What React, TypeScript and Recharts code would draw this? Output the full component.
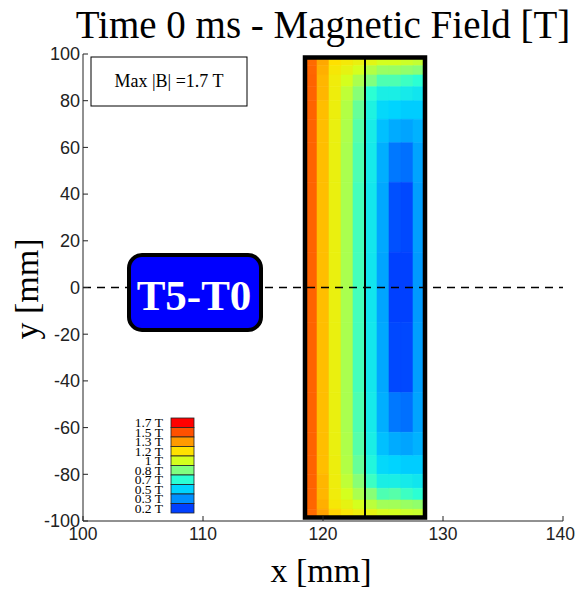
import React from 'react';
import { ComposedChart, XAxis, YAxis, ReferenceArea, ReferenceLine } from 'recharts';

// ---- axes ----
const xTicks = [100, 110, 120, 130, 140];
const yTicks = [-100, -80, -60, -40, -20, 0, 20, 40, 60, 80, 100];

// ---- colour key (value in T -> colour) ----
const legendLabels = ['1.7 T', '1.5 T', '1.3 T', '1.2 T', '1 T', '0.8 T', '0.7 T', '0.5 T', '0.3 T', '0.2 T'];
const legendValues = [1.7, 1.5, 1.3, 1.2, 1.0, 0.8, 0.7, 0.5, 0.3, 0.2];
const legendColors = ['#ff0000', '#ff5000', '#ff9a00', '#ffe100', '#d4ff1e', '#80ff80', '#2bffd4', '#00d4ff', '#0090ff', '#0040ff'];

// ---- coil geometry (mm) ----
const coilX = [118.5, 128.5];
const coilY = [-98.5, 98.5];
const innerX = 123.5;

// ---- field grid: column edges (x, mm) and row edges (y, mm, top -> bottom) ----
const colEdges = [118.5, 119.5, 120.5, 121.5, 122.5, 123.5, 124.5, 125.5, 126.5, 127.5, 128.5];
const rowEdges = [98.5, 95, 91, 86, 80, 72, 62, 45, 15, -15, -45, -62, -72, -80, -86, -91, -95, -98.5];

// |B| in T per column, rows top -> bottom
const col1 = [1.43, 1.44, 1.45, 1.45, 1.45, 1.45, 1.45, 1.45, 1.45, 1.45, 1.45, 1.45, 1.45, 1.45, 1.45, 1.44, 1.43];
const col2 = [1.28, 1.27, 1.26, 1.26, 1.25, 1.25, 1.25, 1.25, 1.25, 1.25, 1.25, 1.25, 1.25, 1.26, 1.26, 1.27, 1.29];
const col3 = [1.2, 1.16, 1.13, 1.12, 1.11, 1.1, 1.1, 1.1, 1.1, 1.1, 1.1, 1.1, 1.11, 1.12, 1.13, 1.16, 1.22];
const col4 = [1.15, 1.08, 1.0, 0.95, 0.92, 0.91, 0.9, 0.9, 0.9, 0.9, 0.9, 0.91, 0.92, 0.95, 1.0, 1.08, 1.17];
const col5 = [1.1, 1.0, 0.9, 0.82, 0.77, 0.75, 0.74, 0.73, 0.73, 0.73, 0.74, 0.75, 0.77, 0.82, 0.9, 1.0, 1.12];
const col6 = [1.06, 0.92, 0.8, 0.7, 0.64, 0.61, 0.6, 0.59, 0.58, 0.59, 0.6, 0.62, 0.66, 0.72, 0.82, 0.94, 1.08];
const col7 = [1.0, 0.86, 0.74, 0.62, 0.52, 0.44, 0.39, 0.37, 0.36, 0.37, 0.39, 0.44, 0.52, 0.62, 0.74, 0.88, 1.02];
const col8 = [1.0, 0.86, 0.74, 0.62, 0.5, 0.38, 0.27, 0.22, 0.2, 0.21, 0.27, 0.38, 0.5, 0.62, 0.75, 0.88, 1.0];
const col9 = [0.98, 0.84, 0.72, 0.6, 0.48, 0.36, 0.26, 0.21, 0.2, 0.21, 0.26, 0.36, 0.48, 0.6, 0.72, 0.86, 0.98];
const col10 = [0.96, 0.82, 0.7, 0.58, 0.48, 0.4, 0.36, 0.34, 0.33, 0.34, 0.36, 0.4, 0.48, 0.58, 0.7, 0.84, 0.97];
const fieldColumns = [col1, col2, col3, col4, col5, col6, col7, col8, col9, col10];

function hexToRgb(h: string) {
  return [parseInt(h.slice(1, 3), 16), parseInt(h.slice(3, 5), 16), parseInt(h.slice(5, 7), 16)];
}
function colorFor(v: number): string {
  const vals = [...legendValues].reverse();
  const cols = [...legendColors].reverse();
  if (v <= vals[0]) return cols[0];
  if (v >= vals[vals.length - 1]) return cols[cols.length - 1];
  for (let i = 0; i < vals.length - 1; i++) {
    if (v >= vals[i] && v <= vals[i + 1]) {
      const t = (v - vals[i]) / (vals[i + 1] - vals[i]);
      const a = hexToRgb(cols[i]);
      const b = hexToRgb(cols[i + 1]);
      const c = a.map((x, k) => Math.round(x + (b[k] - x) * t));
      return `rgb(${c[0]},${c[1]},${c[2]})`;
    }
  }
  return cols[0];
}

const serif = '"Liberation Serif", "Times New Roman", serif';
const sans = '"Liberation Sans", Arial, sans-serif';

function XTick(props: any) {
  const { x, y, payload } = props;
  const fs = 17.5;
  const w = String(payload.value).length * fs * 0.556;
  const cx = Math.min(x, 575 - w / 2);
  return (
    <text x={cx} y={y} dy="0.71em" textAnchor="middle" fontFamily={sans} fontSize={fs} fill="#222">
      {payload.value}
    </text>
  );
}

export default function App() {
  const cells: React.ReactNode[] = [];
  fieldColumns.forEach((col, ci) => {
    col.forEach((v, ri) => {
      const c = colorFor(v);
      cells.push(
        <ReferenceArea
          key={`c${ci}-${ri}`}
          x1={colEdges[ci]}
          x2={colEdges[ci + 1]}
          y1={rowEdges[ri + 1]}
          y2={rowEdges[ri]}
          fill={c}
          fillOpacity={1}
          stroke={c}
          strokeWidth={0.6}
          ifOverflow="visible"
        />
      );
    });
  });

  const tickStyle = { fontFamily: sans, fontSize: 18, fill: '#222' };
  const swX = 171;
  const swY = 418;
  const swH = 9.5;

  return (
    <div style={{ position: 'absolute', left: 0, top: 0, width: 576, height: 592, background: '#fff' }}>
      <ComposedChart width={576} height={592} margin={{ top: 54, right: 13, bottom: 0, left: 0 }}>
        <XAxis
          xAxisId={0}
          type="number"
          dataKey="x"
          domain={[100, 140]}
          ticks={xTicks}
          allowDataOverflow
          height={71}
          tick={<XTick />}
          tickSize={-5}
          tickMargin={12}
          axisLine={{ stroke: '#222' }}
          tickLine={{ stroke: '#222' }}
        />
        <XAxis
          xAxisId="top"
          orientation="top"
          type="number"
          domain={[100, 140]}
          ticks={xTicks}
          height={0}
          tick={false}
          tickSize={-5}
          axisLine={{ stroke: '#222' }}
          tickLine={{ stroke: '#222' }}
        />
        <YAxis
          yAxisId={0}
          type="number"
          dataKey="y"
          domain={[-100, 100]}
          ticks={yTicks}
          allowDataOverflow
          width={83}
          tick={tickStyle}
          tickSize={-5}
          tickMargin={8}
          axisLine={{ stroke: '#222' }}
          tickLine={{ stroke: '#222' }}
        />
        <YAxis
          yAxisId="right"
          orientation="right"
          type="number"
          domain={[-100, 100]}
          ticks={yTicks}
          width={0}
          tick={false}
          tickSize={-5}
          axisLine={{ stroke: '#222' }}
          tickLine={{ stroke: '#222' }}
        />
        {cells}
        <ReferenceLine y={0} stroke="#000" strokeWidth={1.3} strokeDasharray="8 6" />
        <ReferenceArea
          x1={coilX[0]}
          x2={coilX[1]}
          y1={coilY[0]}
          y2={coilY[1]}
          fill="none"
          stroke="#000"
          strokeWidth={4.5}
          ifOverflow="visible"
        />
        <ReferenceLine
          segment={[{ x: innerX, y: coilY[0] }, { x: innerX, y: coilY[1] }]}
          stroke="#000"
          strokeWidth={2}
          ifOverflow="visible"
        />
      </ComposedChart>
      <svg width={576} height={592} style={{ position: 'absolute', left: 0, top: 0, pointerEvents: 'none' }}>
        <text x={323} y={38} textAnchor="middle" fontFamily={serif} fontSize={39} fill="#000">
          Time 0 ms - Magnetic Field [T]
        </text>
        <text x={321} y={582} textAnchor="middle" fontFamily={serif} fontSize={34} fill="#000">
          x [mm]
        </text>
        <text
          x={0}
          y={0}
          transform="translate(38,289) rotate(-90)"
          textAnchor="middle"
          fontFamily={serif}
          fontSize={34}
          fill="#000"
        >
          y [mm]
        </text>
        <rect x={91} y={57} width={156} height={49} fill="#fff" stroke="#000" strokeWidth={1} />
        <text x={169} y={87} textAnchor="middle" fontFamily={serif} fontSize={18} fill="#000">
          Max |B| =1.7 T
        </text>
        <rect x={129} y={255} width={132} height={75} rx={13} ry={13} fill="#0000ff" stroke="#000" strokeWidth={4} />
        <text x={194} y={310} textAnchor="middle" fontFamily={serif} fontWeight="bold" fontSize={43} fill="#fff">
          T5-T0
        </text>
        {legendColors.map((c, i) => (
          <rect key={`s${i}`} x={swX} y={swY + i * swH} width={23} height={swH} fill={c} stroke="#222" strokeWidth={0.8} />
        ))}
        {legendLabels.map((l, i) => (
          <text
            key={`l${i}`}
            x={163}
            y={swY + i * swH + swH / 2 + 4.5}
            textAnchor="end"
            fontFamily={serif}
            fontSize={13.5}
            fill="#000"
          >
            {l}
          </text>
        ))}
      </svg>
    </div>
  );
}
